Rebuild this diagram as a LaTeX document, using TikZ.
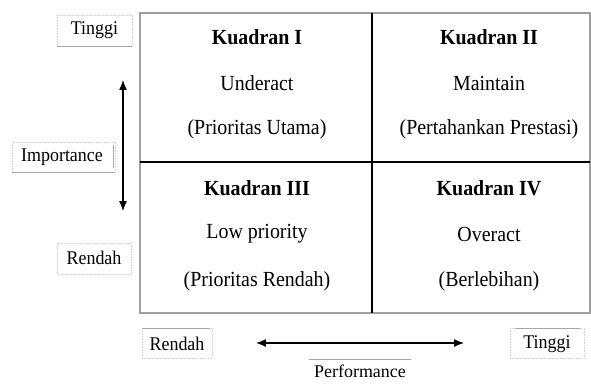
\documentclass[tikz,border=0pt]{standalone}
\usepackage{fontspec}
\setmainfont{Liberation Serif}
\usetikzlibrary{arrows.meta}
\tikzset{
  qtext/.style={font=\fontsize{20}{22}\selectfont, anchor=center, inner sep=0pt, yscale=1.08},
  qhead/.style={qtext, font=\fontsize{20}{22}\selectfont\bfseries},
  lbl/.style={font=\fontsize{18}{20}\selectfont, anchor=center, inner sep=0pt, yscale=1.08},
  lblbox/.style={draw=gray!35, densely dotted, line width=0.6pt},
  lblline/.style={draw=gray!70, line width=1pt},
  outer/.style={draw=gray!75, line width=1.3pt},
  divider/.style={draw=black, line width=1.6pt},
  dbl/.style={line width=1.3pt, {Latex[length=10pt,width=8pt]}-{Latex[length=10pt,width=8pt]}}
}
\begin{document}
\begin{tikzpicture}[x=1bp,y=-1bp]
\useasboundingbox (0,0) rectangle (591,383);
\fill[white] (0,0) rectangle (591,383);

% quadrant grid
\draw[outer] (140,13) rectangle (590,313);
\draw[divider] (372,13) -- (372,313);
\draw[divider] (140,162) -- (590,162);

% quadrant texts
\node[qhead] (q1h) at (257,37) {Kuadran I};
\node[qtext] (q1a) at (257,83) {Underact};
\node[qtext] (q1b) at (257,129) {(Prioritas Utama)};
\node[qhead] (q2h) at (489,37) {Kuadran II};
\node[qtext] (q2a) at (489,83) {Maintain};
\node[qtext] (q2b) at (489,129) {(Pertahankan Prestasi)};
\node[qhead] (q3h) at (257,188) {Kuadran III};
\node[qtext] (q3a) at (257,234) {Low priority};
\node[qtext] (q3b) at (257,281) {(Prioritas Rendah)};
\node[qhead] (q4h) at (489,188) {Kuadran IV};
\node[qtext] (q4a) at (489,234) {Overact};
\node[qtext] (q4b) at (489,281) {(Berlebihan)};

% label boxes
\draw[lblbox] (57,15) rectangle (132,46);
\draw[lblline] (57,46) -- (132,46);
\node[lbl] (tinggiL) at (94.5,30.5) {Tinggi};

\draw[lblbox] (12,142) rectangle (115,172);
\draw[lblline] (12,172) -- (115,172);
\draw[lblline] (113,145) -- (113,168);
\node[lbl] (imp) at (62,157) {Importance};

\draw[lblbox] (57,243) rectangle (131,274);
\node[lbl] (rendahL) at (94,258) {Rendah};

\draw[lblbox] (142,328) rectangle (212,358);
\draw[lblline] (142,328) -- (210,328);
\node[lbl] (rendahB) at (177,344) {Rendah};

\draw[lblbox] (510,328) rectangle (584,358);
\draw[lblline] (515,328) -- (580,328);
\node[lbl] (tinggiB) at (547,344) {Tinggi};

\draw[lblline] (309,359) -- (411,359);
\node[lbl, yscale=1/1.08] (perf) at (360,371.5) {Performance};

% arrows
\coordinate (vtop) at (123,80);
\coordinate (vbot) at (123,211);
\coordinate (hleft) at (256,343);
\coordinate (hright) at (464,343);
\draw[dbl] (vtop) -- (vbot);
\draw[dbl] (hleft) -- (hright);
\end{tikzpicture}
\end{document}
